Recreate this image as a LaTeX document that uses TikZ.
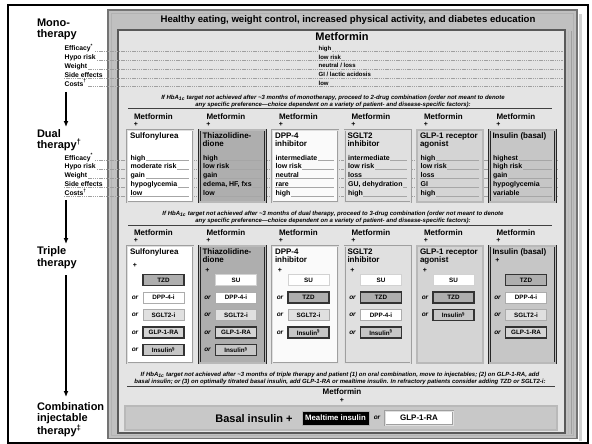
\documentclass[tikz,border=0pt]{standalone}
\usepackage{fontspec}
\setmainfont{Liberation Sans}
\usetikzlibrary{arrows.meta}
\definecolor{cInner}{HTML}{E4E4E4}
\definecolor{cFrame}{HTML}{C0C0C0}
\definecolor{cTZD}{HTML}{AEAEAE}
\definecolor{cDPP}{HTML}{FAFAFA}
\definecolor{cSGLT}{HTML}{E0E0E0}
\definecolor{cGLP}{HTML}{D4D4D4}
\definecolor{cINS}{HTML}{C6C6C6}
\definecolor{cBasal}{HTML}{C8C8C8}
\newcommand\fsz[1]{\fontsize{#1}{#1}\selectfont}
% dual-therapy column: #1 name, #2 left x, #3 border style, #4 fill colour, #5 title, #6 values
\newcommand\dualcol[6]{%
  \node[metf] (#1m) at (#2+7,119) {Metformin};
  \node[plussign] (#1p) at (#2+9,124.5) {+};
  \node[#3, fill=#4, minimum width=66pt, minimum height=72pt, anchor=north west] (#1) at (#2,130) {};
  \node[boxtitle] (#1t) at (#2+3,132.5) {#5};
  \foreach \v [count=\k from 0] in {#6}{%
    \draw[vline] (#2+3,{160.3+8.9*\k}) -- (#2+62,{160.3+8.9*\k});
    \node[valtxt, fill=#4] (#1v\k) at (#2+3,{160+8.9*\k}) {\v};
  }%
}
% triple-therapy column: #1 name, #2 left x, #3 border, #4 fill, #5 title, #6 y of plus
\newcommand\triplecol[6]{%
  \node[metf] (#1m) at (#2+7,235) {Metformin};
  \node[plussign] (#1p) at (#2+9,240.5) {+};
  \node[#3, fill=#4, minimum width=66pt, minimum height=117pt, anchor=north west] (#1) at (#2,246) {};
  \node[boxtitle] (#1t) at (#2+3,248.5) {#5};
  \node[plussign] (#1q) at (#2+8,#6) {+};
}
\newcommand\subbx[5]{\node[#4, sbox] (#1) at (#2+36.5,#3) {#5};}
\newcommand\orbx[5]{\node[ortext] (#1or) at (#2+8,#3) {or};\subbx{#1}{#2}{#3}{#4}{#5}}
\begin{document}
\begin{tikzpicture}[x=1pt,y=-1pt,
  every node/.style={inner sep=0pt, outer sep=0pt},
  headtxt/.style={font=\bfseries\fontsize{11}{11.4}\selectfont, align=left, anchor=north west},
  lbl/.style={font=\bfseries\fsz{6.8}, anchor=base west, fill=white, inner sep=0.6pt},
  mval/.style={font=\bfseries\fsz{6}, anchor=base west, fill=cInner, inner sep=0.6pt},
  valtxt/.style={font=\bfseries\fsz{7}, anchor=base west, inner sep=0.6pt},
  boxtitle/.style={font=\bfseries\fontsize{8}{8.3}\selectfont, align=left, anchor=north west},
  metf/.style={font=\bfseries\fsz{8}, anchor=base west},
  plussign/.style={font=\bfseries\fsz{7}},
  notetxt/.style={font=\bfseries\itshape\fontsize{6}{7.3}\selectfont, align=center},
  ortext/.style={font=\bfseries\itshape\fsz{6.5}},
  sbox/.style={minimum width=41pt, minimum height=11pt, font=\bfseries\fsz{6.3}},
  dline/.style={gray!75, line width=0.4pt, dash pattern=on 1.4pt off 0.8pt},
  vline/.style={gray!70, line width=0.4pt},
  litebox/.style={draw=gray!75, double=gray!25, double distance=1pt, line width=0.5pt},
  darkbox/.style={draw=black!85, double=gray!55, double distance=1.2pt, line width=0.7pt},
  litesub/.style={draw=gray!65, line width=0.9pt},
  darksub/.style={draw=black!80, line width=1.2pt},
  sTZD/.style={darksub, fill=cTZD},
  sSU/.style={draw=gray!35, line width=0.9pt, fill=white},
  sDPP/.style={litesub, fill=white},
  sSGLT/.style={litesub, fill=cSGLT},
  sGLP/.style={darksub, fill=cGLP},
  sINS/.style={darksub, fill=cINS},
  rule/.style={line width=1pt, black!75},
  arrowln/.style={line width=1.3pt, -{Latex[length=6pt,width=5pt]}}
]
\useasboundingbox (0,0) rectangle (592,444);
\fill[white] (0,0) rectangle (592,444);
\draw[line width=2pt] (7.5,5) rectangle (588,443);

% frame
\fill[gray!35] (579,14) rectangle (582,441);
\draw[fill=cFrame, draw=black!55, line width=1.2pt] (108,10) rectangle (577,438.5);
\draw[gray!60, line width=0.8pt] (111.5,13) rectangle (573.5,435.5);
\draw[fill=cInner, draw=black!65, line width=1.2pt] (118,30) rectangle (565,433);
\draw[gray!55, line width=0.8pt] (568.5,31) -- (568.5,434);
\draw[gray!75, line width=0.6pt] (571,31) -- (571,434);

\node[font=\bfseries\fsz{9.6}] (hdr) at (348,20) {Healthy eating, weight control, increased physical activity, and diabetes education};

% monotherapy
\node[headtxt] (mono) at (37,19) {Mono-\\therapy};
\node[font=\bfseries\fsz{11}] (metbig) at (342,36.5) {Metformin};
\foreach \t [count=\k from 0] in {Efficacy\textsuperscript{*},Hypo risk,Weight,Side effects,Costs\textsuperscript{†}}{%
  \draw[dline] (64,{51.5+8.75*\k}) -- (563,{51.5+8.75*\k});
  \node[lbl] (ml\k) at (64,{51+8.75*\k}) {\t};
}
\foreach \t [count=\k from 0] in {high,low risk,neutral / loss,GI / lactic acidosis,low}{%
  \node[mval] (mv\k) at (318,{50.3+8.75*\k}) {\t};
}

\node[notetxt] (n1) at (333,101.3) {If HbA\textsubscript{1c} target not achieved after \textasciitilde3 months of monotherapy, proceed to 2-drug combination (order not meant to denote\\any specific preference—choice dependent on a variety of patient- and disease-specific factors):};
\draw[rule] (128,108.8) -- (552,108.8);

% dual therapy
\node[headtxt] (dual) at (37,129.5) {Dual\\therapy\textsuperscript{†}};
\foreach \t [count=\k from 0] in {Efficacy\textsuperscript{*},Hypo risk,Weight,Side effects,Costs\textsuperscript{†}}{%
  \draw[dline] (64,{160.5+8.9*\k}) -- (557,{160.5+8.9*\k});
  \node[lbl] (dl\k) at (64,{160+8.9*\k}) {\t};
}
\dualcol{d1}{127}{litebox}{white}{Sulfonylurea}{high,moderate risk,gain,hypoglycemia,low}
\dualcol{d2}{199.5}{darkbox}{cTZD}{Thiazolidine-\\dione}{high,low risk,gain,{edema, HF, fxs},low}
\dualcol{d3}{272}{litebox}{cDPP}{DPP-4\\inhibitor}{intermediate,low risk,neutral,rare,high}
\dualcol{d4}{344.5}{litebox}{cSGLT}{SGLT2\\inhibitor}{intermediate,low risk,loss,{GU, dehydration},high}
\dualcol{d5}{417}{darkbox}{cGLP}{GLP-1 receptor\\agonist}{high,low risk,loss,GI,high}
\dualcol{d6}{489.5}{darkbox}{cINS}{Insulin (basal)}{highest,high risk,gain,hypoglycemia,variable}

\node[notetxt] (n2) at (333,217.3) {If HbA\textsubscript{1c} target not achieved after \textasciitilde3 months of dual therapy, proceed to 3-drug combination (order not meant to denote\\any specific preference—choice dependent on a variety of patient- and disease-specific factors):};
\draw[rule] (128,225.3) -- (552,225.3);

% triple therapy
\node[headtxt] (triple) at (37,247) {Triple\\therapy};
\triplecol{t1}{127}{litebox}{white}{Sulfonylurea}{265}
\triplecol{t2}{199.5}{darkbox}{cTZD}{Thiazolidine-\\dione}{270}
\triplecol{t3}{272}{litebox}{cDPP}{DPP-4\\inhibitor}{270}
\triplecol{t4}{344.5}{litebox}{cSGLT}{SGLT2\\inhibitor}{270}
\triplecol{t5}{417}{darkbox}{cGLP}{GLP-1 receptor\\agonist}{270}
\triplecol{t6}{489.5}{darkbox}{cINS}{Insulin (basal)}{260}

\subbx{t1a}{127}{280}{sTZD}{TZD}
\orbx{t1b}{127}{297.5}{sDPP}{DPP-4-i}
\orbx{t1c}{127}{315}{sSGLT}{SGLT2-i}
\orbx{t1d}{127}{332.5}{sGLP}{GLP-1-RA}
\orbx{t1e}{127}{350}{sINS}{Insulin\textsuperscript{§}}

\subbx{t2a}{199.5}{280}{sSU}{SU}
\orbx{t2b}{199.5}{297.5}{sDPP}{DPP-4-i}
\orbx{t2c}{199.5}{315}{sSGLT}{SGLT2-i}
\orbx{t2d}{199.5}{332.5}{sGLP}{GLP-1-RA}
\orbx{t2e}{199.5}{350}{sINS}{Insulin\textsuperscript{§}}

\subbx{t3a}{272}{280}{sSU}{SU}
\orbx{t3b}{272}{297.5}{sTZD}{TZD}
\orbx{t3c}{272}{315}{sSGLT}{SGLT2-i}
\orbx{t3d}{272}{332.5}{sINS}{Insulin\textsuperscript{§}}

\subbx{t4a}{344.5}{280}{sSU}{SU}
\orbx{t4b}{344.5}{297.5}{sTZD}{TZD}
\orbx{t4c}{344.5}{315}{sDPP}{DPP-4-i}
\orbx{t4d}{344.5}{332.5}{sINS}{Insulin\textsuperscript{§}}

\subbx{t5a}{417}{280}{sSU}{SU}
\orbx{t5b}{417}{297.5}{sTZD}{TZD}
\orbx{t5c}{417}{315}{sINS}{Insulin\textsuperscript{§}}

\subbx{t6a}{489.5}{280}{sTZD}{TZD}
\orbx{t6b}{489.5}{297.5}{sDPP}{DPP-4-i}
\orbx{t6c}{489.5}{315}{sSGLT}{SGLT2-i}
\orbx{t6d}{489.5}{332.5}{sGLP}{GLP-1-RA}

\node[notetxt] (n3) at (340,378.5) {If HbA\textsubscript{1c} target not achieved after \textasciitilde3 months of triple therapy and patient (1) on oral combination, move to injectables; (2) on GLP-1-RA, add\\basal insulin; or (3) on optimally titrated basal insulin, add GLP-1-RA or mealtime insulin. In refractory patients consider adding TZD or SGLT2-i:};
\draw[rule] (127,386.5) -- (555,386.5);

% combination injectable therapy
\node[headtxt] (combo) at (37,402.5) {Combination\\injectable\\therapy\textsuperscript{‡}};
\node[metf, anchor=center] (bmet) at (342,391.5) {Metformin};
\node[plussign] (bplus) at (342,400) {+};
\node[darkbox, fill=cBasal, minimum width=432pt, minimum height=24pt, anchor=north west] (basal) at (125,406) {};
\node[font=\bfseries\fsz{11}] (basaltxt) at (254,418.5) {Basal insulin +};
\node[fill=black, text=white, draw=gray!60, line width=0.6pt, minimum width=67pt, minimum height=14pt, font=\bfseries\fsz{7.8}] (meal) at (335.5,418) {Mealtime insulin};
\node[ortext] (bor) at (377,418) {or};
\node[litebox, fill=white, minimum width=68pt, minimum height=14pt, font=\bfseries\fsz{8}] (bglp) at (419,418) {GLP-1-RA};

% left arrows
\coordinate (a1s) at (66,92);
\coordinate (a1e) at (66,127);
\coordinate (a2s) at (66,200);
\coordinate (a2e) at (66,244);
\coordinate (a3s) at (66,275);
\coordinate (a3e) at (66,397);
\draw[arrowln] (a1s) -- (a1e);
\draw[arrowln] (a2s) -- (a2e);
\draw[arrowln] (a3s) -- (a3e);
\end{tikzpicture}
\end{document}
